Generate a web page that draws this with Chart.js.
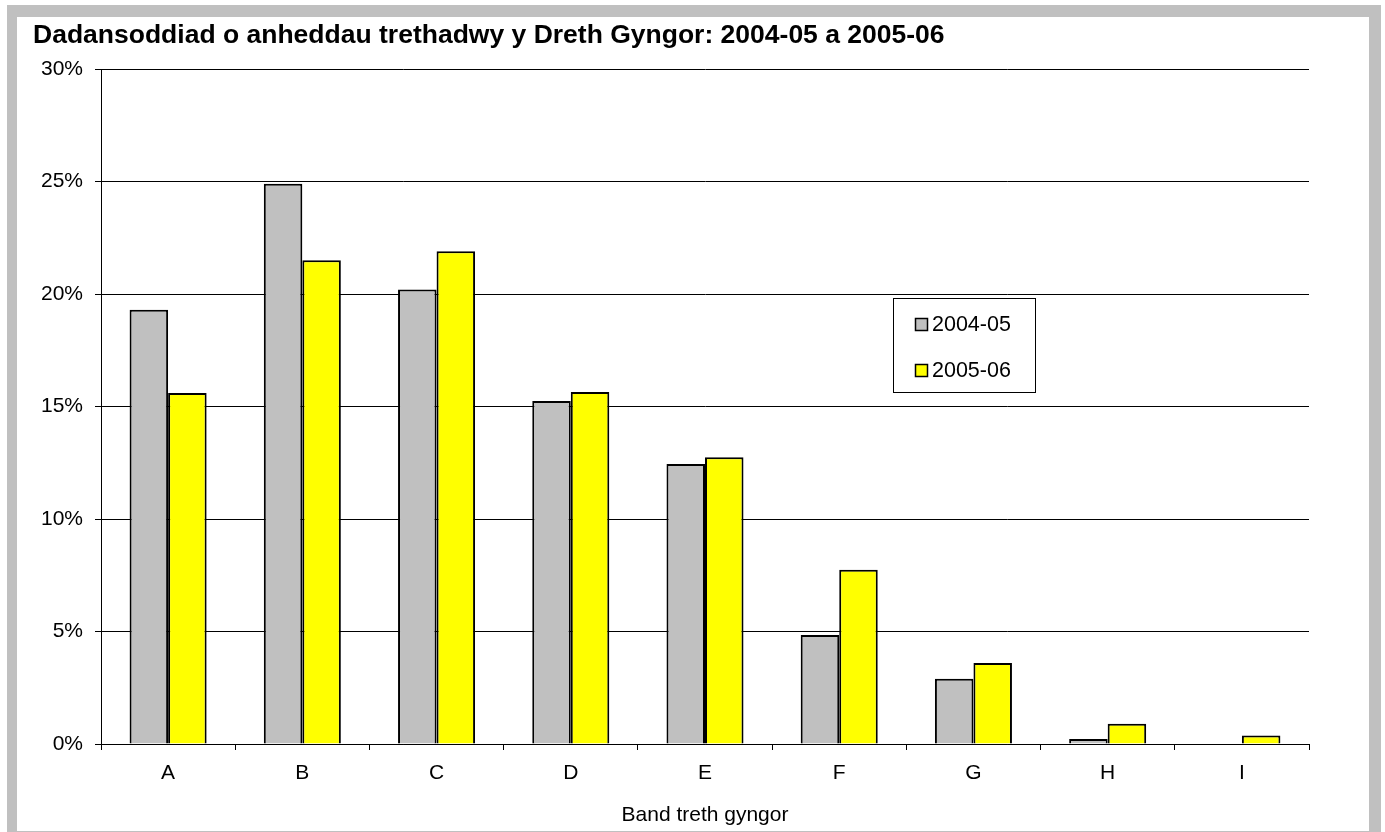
<!DOCTYPE html>
<html>
<head>
<meta charset="utf-8">
<script src="https://cdn.jsdelivr.net/npm/chart.js@4/dist/chart.umd.min.js"></script>
<style>
  html, body { margin: 0; padding: 0; background: #fff; width: 1385px; height: 832px; overflow: hidden; }
  #frame { position: absolute; left: 7px; top: 5px; width: 1374px; height: 840px; background: #c0c0c0; }
  #inner { position: absolute; left: 17px; top: 17px; width: 1352px; height: 814px; background: #fff; }
  #wrap { position: absolute; left: 0; top: 0; width: 1385px; height: 832px; }
</style>
</head>
<body>
<div id="frame"></div>
<div id="inner"></div>
<div id="wrap"><canvas id="c" width="1385" height="832"></canvas></div>
<script>
const titleText = 'Dadansoddiad o anheddau trethadwy y Dreth Gyngor: 2004-05 a 2005-06';
const xAxisTitle = 'Band treth gyngor';
const categories = ['A', 'B', 'C', 'D', 'E', 'F', 'G', 'H', 'I'];
const seriesLabels = ['2004-05', '2005-06'];
const values2004 = [19.3, 24.9, 20.2, 15.25, 12.45, 4.85, 2.9, 0.22, 0];
const values2005 = [15.6, 21.5, 21.9, 15.65, 12.75, 7.75, 3.6, 0.9, 0.38];
const yTicks = [0, 5, 10, 15, 20, 25, 30];

const FONT = '"Liberation Sans", Arial, sans-serif';
Chart.defaults.font.family = FONT;
Chart.defaults.color = '#000';

const boxLegend = {
  id: 'boxLegend',
  afterDraw(chart) {
    const ctx = chart.ctx;
    const x0 = 893, y0 = 298, w = 142, h = 94;
    ctx.save();
    ctx.fillStyle = '#fff';
    ctx.fillRect(x0, y0, w, h);
    ctx.strokeStyle = '#000';
    ctx.lineWidth = 1;
    ctx.strokeRect(x0 + 0.5, y0 + 0.5, w, h);
    ctx.font = '21.5px ' + FONT;
    ctx.textBaseline = 'middle';
    ctx.textAlign = 'left';
    chart.data.datasets.forEach((ds, i) => {
      const cy = 324 + i * 46;
      ctx.fillStyle = ds.backgroundColor;
      ctx.fillRect(915, cy - 6, 13, 13);
      ctx.strokeStyle = '#000';
      ctx.lineWidth = 1.5;
      ctx.strokeRect(915.5, cy - 5.5, 12, 12);
      ctx.fillStyle = '#000';
      ctx.fillText(ds.label, 932, cy + 1);
    });
    ctx.restore();
  }
};

new Chart(document.getElementById('c'), {
  type: 'bar',
  data: {
    labels: categories,
    datasets: [
      { label: seriesLabels[0], data: values2004, backgroundColor: '#c0c0c0', borderColor: '#000', borderWidth: 2 },
      { label: seriesLabels[1], data: values2005, backgroundColor: '#ffff00', borderColor: '#000', borderWidth: 2 }
    ]
  },
  options: {
    responsive: false,
    animation: false,
    layout: { padding: { left: 33, right: 76, top: 0, bottom: 0 } },
    datasets: { bar: { categoryPercentage: 0.574, barPercentage: 1 } },
    plugins: {
      legend: { display: false },
      tooltip: { enabled: false },
      title: {
        display: true,
        text: titleText,
        align: 'start',
        color: '#000',
        font: { size: 26.5, weight: 'bold', family: FONT, lineHeight: 1.2 },
        padding: { top: 20, bottom: 17.2 }
      }
    },
    scales: {
      x: {
        offset: true,
        grid: { display: true, drawOnChartArea: false, drawTicks: true, tickLength: 6, color: '#000', offset: true },
        border: { color: '#000', width: 1 },
        ticks: { font: { size: 21 }, padding: 11, color: '#000' },
        title: { display: true, text: xAxisTitle, font: { size: 21 }, color: '#000', padding: { top: 8 } },
        afterFit: (s) => { s.height = 88; }
      },
      y: {
        min: 0, max: 30,
        afterBuildTicks: (s) => { s.ticks = yTicks.map(v => ({ value: v })); },
        grid: { color: '#000', lineWidth: 1, tickLength: 6, drawTicks: true },
        border: { color: '#000', width: 1 },
        ticks: { font: { size: 21 }, padding: 12, color: '#000', callback: (v) => v + '%' },
        afterFit: (s) => { s.width = 68; }
      }
    }
  },
  plugins: [boxLegend]
});
</script>
</body>
</html>
